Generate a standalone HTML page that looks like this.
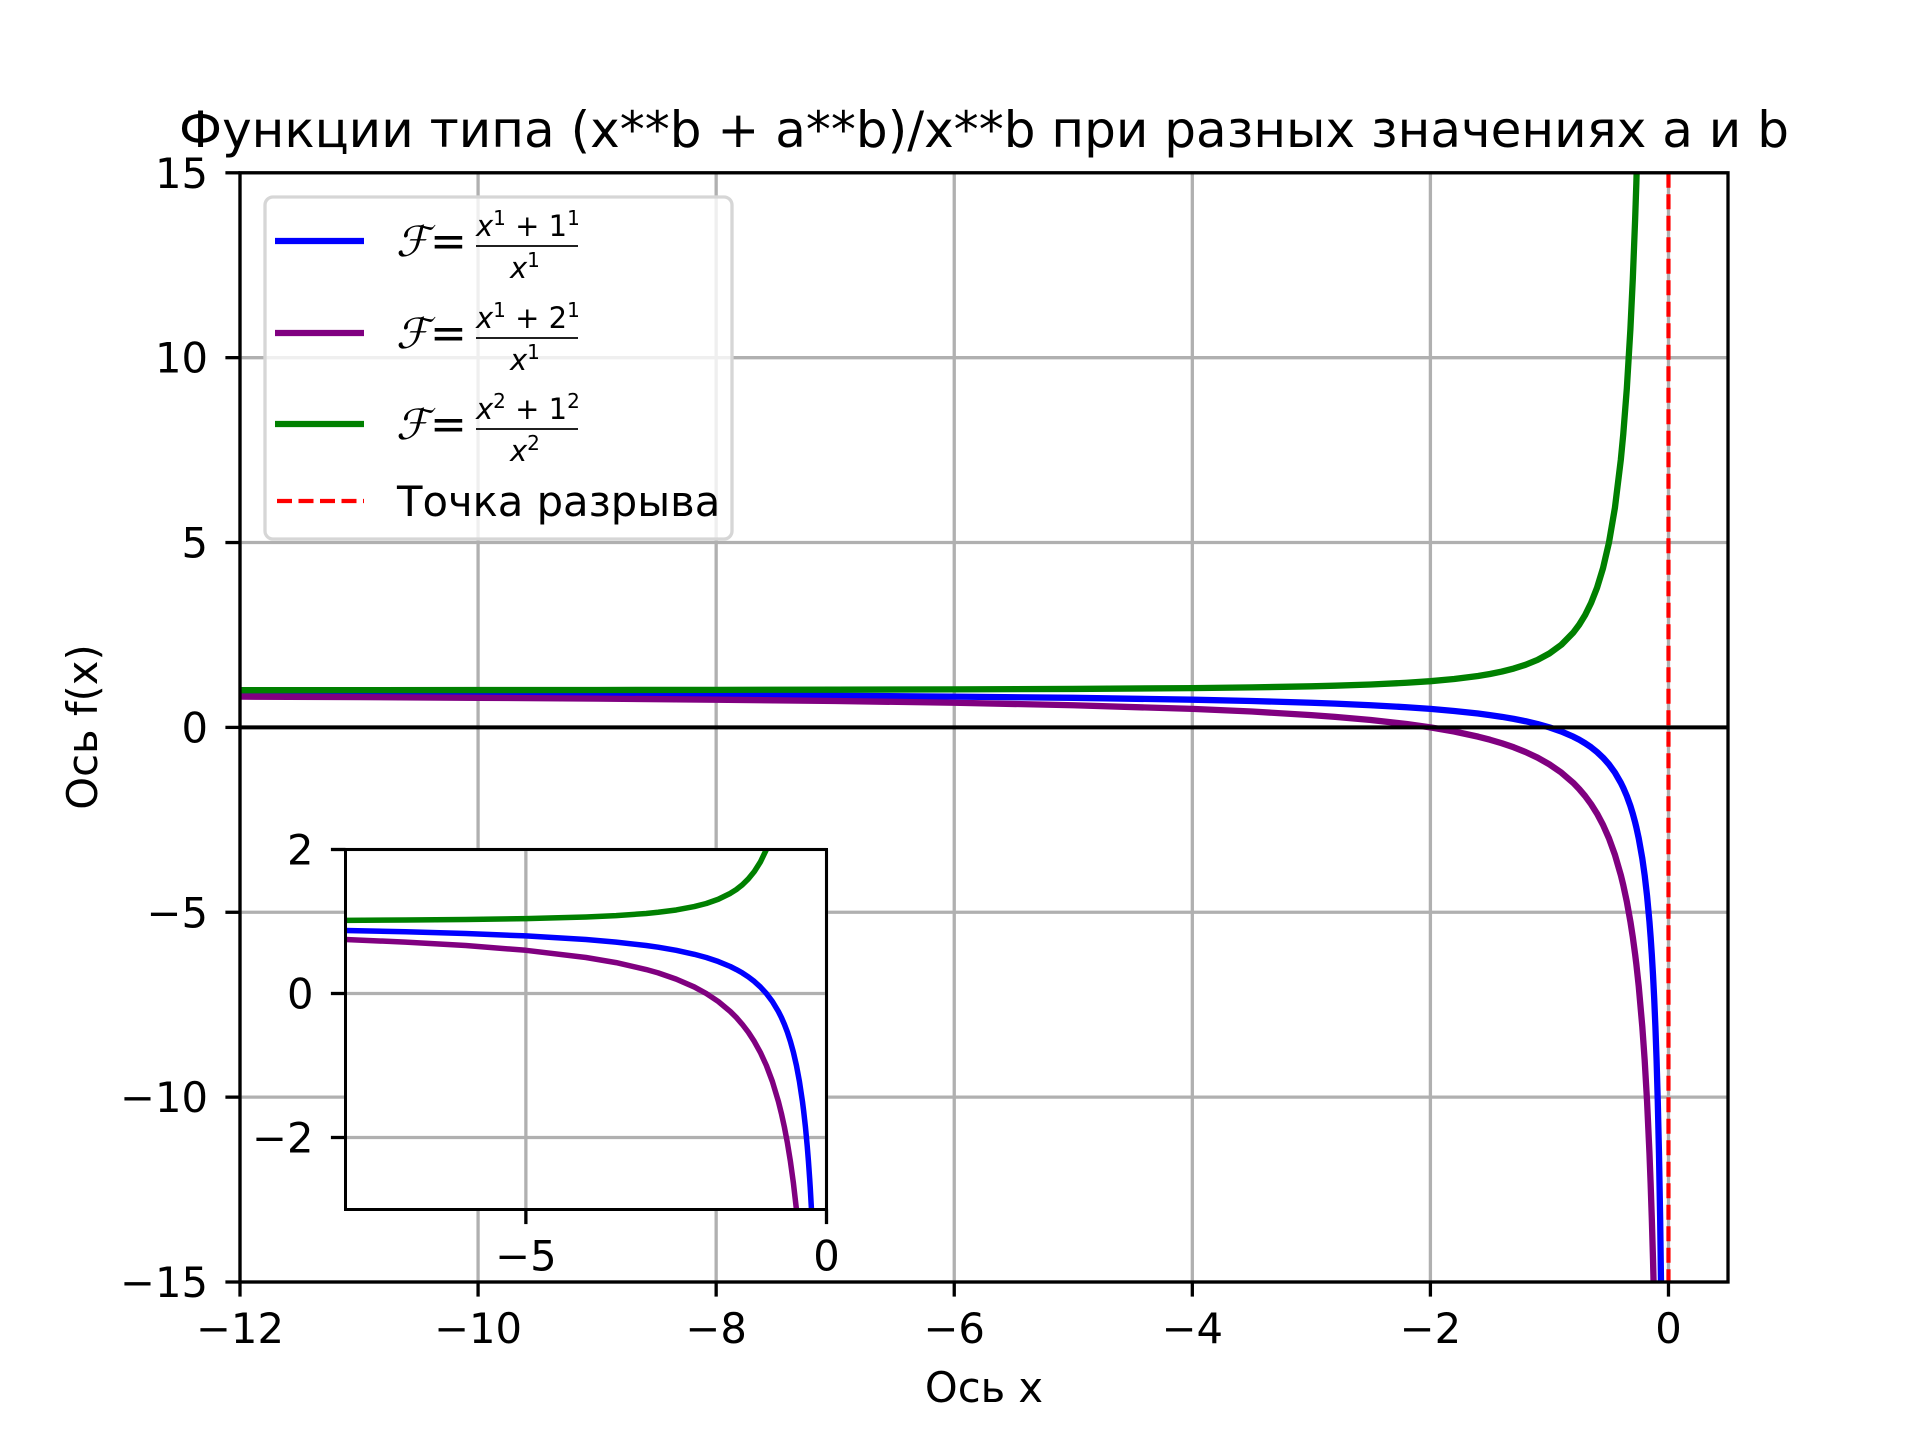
<!DOCTYPE html>
<html><head><meta charset="utf-8">
<style>
html,body{margin:0;padding:0;background:#fff;width:1920px;height:1440px;overflow:hidden;}
svg{display:block;font-family:"DejaVu Sans","Liberation Sans",sans-serif;}
</style></head>
<body>
<svg id="chart" width="1920" height="1440" viewBox="0 0 1920 1440" xmlns="http://www.w3.org/2000/svg">
<defs>
<clipPath id="mainClip"><rect x="240" y="172.8" width="1488" height="1109.2"/></clipPath>
<clipPath id="insetClip"><rect x="345.5" y="849.5" width="481" height="360"/></clipPath>
</defs>
<rect width="1920" height="1440" fill="#fff"/>
<g id="main"></g>
<g id="legend"></g>
<g id="inset"></g>
<text x="984" y="147" font-size="50" text-anchor="middle" textLength="1610" lengthAdjust="spacingAndGlyphs">Функции типа (x**b + a**b)/x**b при разных значениях a и b</text>
<text x="984" y="1402" font-size="41.7" text-anchor="middle">Ось x</text>
<text x="97" y="727" font-size="41.7" text-anchor="middle" transform="rotate(-90 97 727)">Ось f(x)</text>
</svg>
<script>
const xs = [-12,-11,-10,-9,-8,-7,-6,-5,-4,-3.5,-3,-2.8,-2.5,-2.2,-2,-1.8,-1.6,-1.5,-1.4,-1.3,-1.2,-1.1,-1,-0.9,-0.8,-0.75,-0.7,-0.65,-0.6,-0.55,-0.5,-0.45,-0.4,-0.38,-0.35,-0.32,-0.3,-0.28,-0.27,-0.25,-0.22,-0.2,-0.18,-0.16,-0.15,-0.14,-0.13,-0.12,-0.11,-0.1,-0.09,-0.08,-0.07,-0.06,-0.05];
const f1 = [0.917,0.909,0.9,0.889,0.875,0.857,0.833,0.8,0.75,0.714,0.667,0.643,0.6,0.545,0.5,0.444,0.375,0.333,0.286,0.231,0.167,0.091,0,-0.111,-0.25,-0.333,-0.429,-0.538,-0.667,-0.818,-1,-1.222,-1.5,-1.632,-1.857,-2.125,-2.333,-2.571,-2.704,-3,-3.545,-4,-4.556,-5.25,-5.667,-6.143,-6.692,-7.333,-8.091,-9,-10.111,-11.5,-13.286,-15.667,-19];
const f2 = [0.833,0.818,0.8,0.778,0.75,0.714,0.667,0.6,0.5,0.429,0.333,0.286,0.2,0.091,0,-0.111,-0.25,-0.333,-0.429,-0.538,-0.667,-0.818,-1,-1.222,-1.5,-1.667,-1.857,-2.077,-2.333,-2.636,-3,-3.444,-4,-4.263,-4.714,-5.25,-5.667,-6.143,-6.407,-7,-8.091,-9,-10.111,-11.5,-12.333,-13.286,-14.385,-15.667,-17.182,-19,-21.222,-24,-27.571,-32.333,-39];
const f3 = [1.007,1.008,1.01,1.012,1.016,1.02,1.028,1.04,1.063,1.082,1.111,1.128,1.16,1.207,1.25,1.309,1.391,1.444,1.51,1.592,1.694,1.826,2,2.235,2.563,2.778,3.041,3.367,3.778,4.306,5,5.938,7.25,7.925,9.163,10.766,12.111,13.755,14.717,17,21.661,26,31.864,40.063,45.444,52.02,60.172,70.444,83.645,101,124.457,157.25,205.082,278.778,401];
const mainXTicks = [-12,-10,-8,-6,-4,-2,0];
const mainYTicks = [-15,-10,-5,0,5,10,15];
const insetXTicks = [-5,0];
const insetYTicks = [-2,0,2];
const seriesColors = ['blue','purple','green'];
const seriesNames = ['series-a1-b1','series-a2-b1','series-a1-b2'];

const NS='http://www.w3.org/2000/svg';
function mk(tag, attrs, parent){const e=document.createElementNS(NS,tag);for(const k in attrs)e.setAttribute(k,attrs[k]);parent.appendChild(e);return e;}
function fmt(v){return v<0?'\u2212'+Math.abs(v):String(v);}

function makeAxes(g, box, xlim, ylim, xt, yt, clipId, prefix){
  const sx=v=>box.x+(v-xlim[0])/(xlim[1]-xlim[0])*box.w;
  const sy=v=>box.y+box.h-(v-ylim[0])/(ylim[1]-ylim[0])*box.h;
  const bg=mk('rect',{x:box.x,y:box.y,width:box.w,height:box.h,fill:'#fff'},g);
  
  
  xt.forEach(v=>{
    const l=mk('line',{x1:sx(v),x2:sx(v),y1:box.y,y2:box.y+box.h,stroke:'#b0b0b0','stroke-width':3.3},g);
    
    
  });
  yt.forEach(v=>{
    const l=mk('line',{x1:box.x,x2:box.x+box.w,y1:sy(v),y2:sy(v),stroke:'#b0b0b0','stroke-width':3.3},g);
    
    
  });
  const cg=mk('g',{'clip-path':'url(#'+clipId+')'},g);
  return {sx,sy,cg};
}
function drawSeries(ax, prefix, lw){
  [f1,f2,f3].forEach((arr,i)=>{
    const d=xs.map((x,j)=>(j?'L':'M')+ax.sx(x).toFixed(2)+','+ax.sy(arr[j]).toFixed(2)).join(' ');
    const p=mk('path',{d:d,fill:'none',stroke:seriesColors[i],'stroke-width':lw,'stroke-linejoin':'round'},ax.cg);
    
    
  });
}
function drawFrame(g, box, ax, xt, yt, prefix, lw){
  const fr=mk('rect',{x:box.x,y:box.y,width:box.w,height:box.h,fill:'none',stroke:'#000','stroke-width':lw},g);
  
  
  xt.forEach(v=>{
    const x=ax.sx(v);
    const t=mk('line',{x1:x,x2:x,y1:box.y+box.h,y2:box.y+box.h+14.6,stroke:'#000','stroke-width':3.3},g);
    
    
    const tx=mk('text',{x:x,y:box.y+box.h+61,'font-size':41.7,'text-anchor':'middle'},g);
    tx.textContent=fmt(v);
    
    
  });
  yt.forEach(v=>{
    const y=ax.sy(v);
    const t=mk('line',{x1:box.x-14.6,x2:box.x,y1:y,y2:y,stroke:'#000','stroke-width':3.3},g);
    
    
    const tx=mk('text',{x:box.x-32,y:y+15,'font-size':41.7,'text-anchor':'end'},g);
    tx.textContent=fmt(v);
    
    
  });
}

// main axes
const mg=document.getElementById('main');
const mbox={x:240,y:172.8,w:1488,h:1109.2};
const max=makeAxes(mg,mbox,[-12,0.5],[-15,15],mainXTicks,mainYTicks,'mainClip','main');
drawSeries(max,'main',6.3);
const zl=mk('line',{x1:mbox.x,x2:mbox.x+mbox.w,y1:max.sy(0),y2:max.sy(0),stroke:'#000','stroke-width':4},max.cg);


const rl=mk('line',{x1:max.sx(0),x2:max.sx(0),y1:mbox.y,y2:mbox.y+mbox.h,stroke:'red','stroke-width':4.2,'stroke-dasharray':'15,6.5'},max.cg);


drawFrame(mg,mbox,max,mainXTicks,mainYTicks,'main',3.3);

// legend
const lg=document.getElementById('legend');
const lb=mk('rect',{x:265,y:197,width:467,height:342,rx:8,fill:'rgba(255,255,255,0.8)',stroke:'#d6d6d6','stroke-width':3.3},lg);


const legY=[241,333,424];
const nums=[['x','1','1','1'],['x','1','2','1'],['x','2','1','2']];
const dens=['1','1','2'];
legY.forEach((y,i)=>{
  const e=mk('g',{},lg);
  
  
  mk('line',{x1:275,x2:364,y1:y,y2:y,stroke:seriesColors[i],'stroke-width':6.3},e);
  const F=mk('text',{x:396,y:y+15,'font-size':42,'font-style':'italic','font-family':'"DejaVu Serif","Liberation Serif",serif'},e);
  F.textContent='\u2131';
  const eq=mk('text',{x:430,y:y+15,'font-size':44},e);
  eq.textContent='=';
  const n=nums[i];
  const nt=mk('text',{x:476,y:y-5,'font-size':29},e);
  nt.innerHTML='<tspan font-style="italic">'+n[0]+'</tspan><tspan font-size="20" dy="-11">'+n[1]+'</tspan><tspan dy="11"> + '+n[2]+'</tspan><tspan font-size="20" dy="-11">'+n[3]+'</tspan>';
  mk('line',{x1:476,x2:578,y1:y+5,y2:y+5,stroke:'#000','stroke-width':1.8},e);
  const dt=mk('text',{x:510,y:y+37,'font-size':29},e);
  dt.innerHTML='<tspan font-style="italic">x</tspan><tspan font-size="20" dy="-11">'+dens[i]+'</tspan>';
});
const le=mk('g',{},lg);


mk('line',{x1:277,x2:364,y1:501,y2:501,stroke:'red','stroke-width':4.2,'stroke-dasharray':'15,6.5'},le);
const lt=mk('text',{x:397,y:516,'font-size':41.7},le);
lt.textContent='Точка разрыва';

// inset
const ig=document.getElementById('inset');
const ibox={x:345.5,y:849.5,w:481,h:360};
const iax=makeAxes(ig,ibox,[-8,0],[-3,2],insetXTicks,insetYTicks,'insetClip','inset');
drawSeries(iax,'inset',5.5);
drawFrame(ig,ibox,iax,insetXTicks,insetYTicks,'inset',3);
</script>
</body></html>
